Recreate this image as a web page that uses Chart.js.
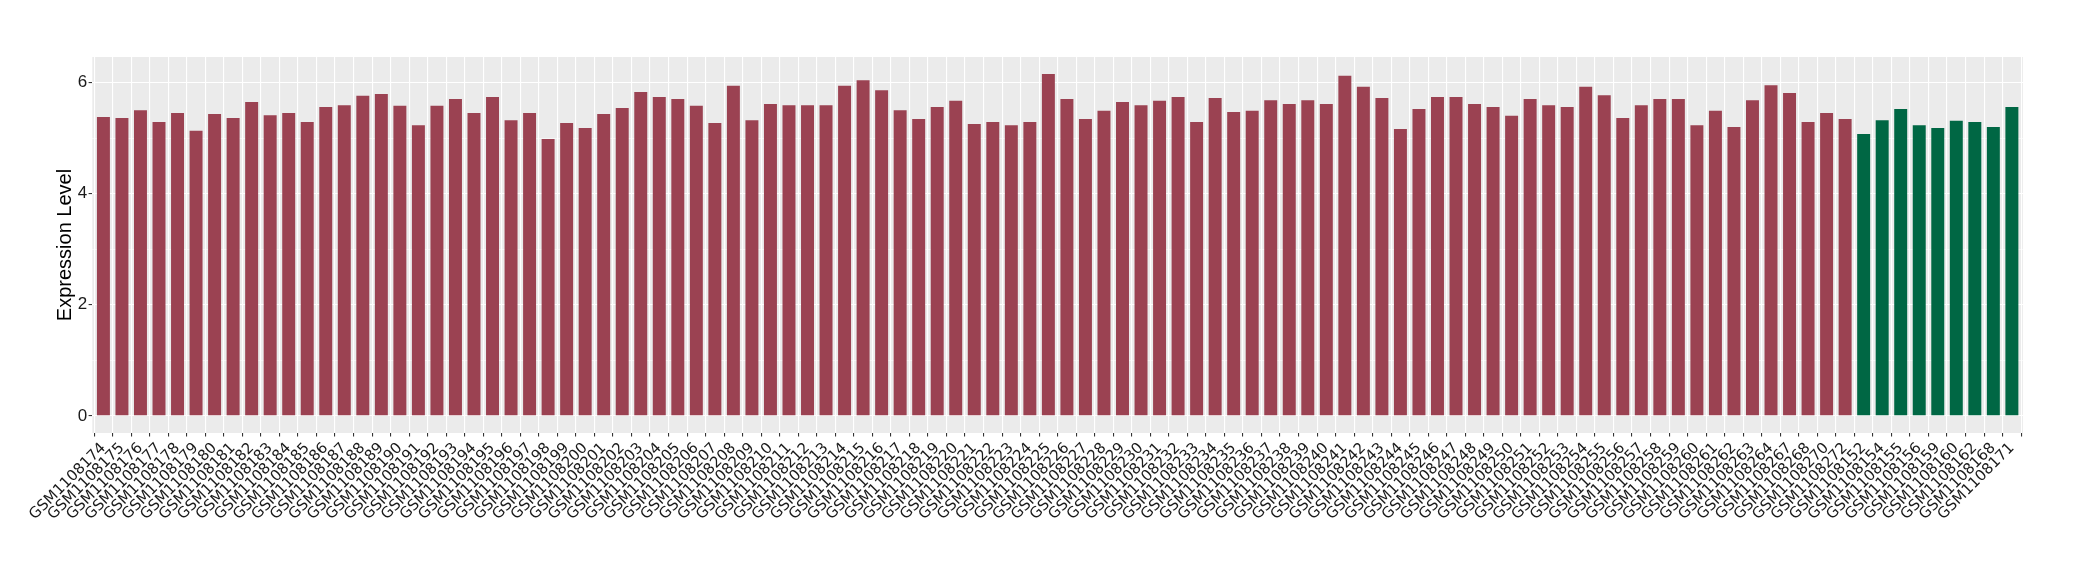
<!DOCTYPE html>
<html><head><meta charset="utf-8">
<script src="https://cdn.jsdelivr.net/npm/chart.js@4/dist/chart.umd.min.js"></script>
<style>html,body{margin:0;padding:0;background:#fff;}</style>
</head><body>
<canvas id="c" width="2080" height="580" style="display:block;width:2080px;height:580px"></canvas>
<script>
const groupALabels = [
"GSM1108174","GSM1108175","GSM1108176","GSM1108177","GSM1108178","GSM1108179","GSM1108180","GSM1108181","GSM1108182","GSM1108183",
"GSM1108184","GSM1108185","GSM1108186","GSM1108187","GSM1108188","GSM1108189","GSM1108190","GSM1108191","GSM1108192","GSM1108193",
"GSM1108194","GSM1108195","GSM1108196","GSM1108197","GSM1108198","GSM1108199","GSM1108200","GSM1108201","GSM1108202","GSM1108203",
"GSM1108204","GSM1108205","GSM1108206","GSM1108207","GSM1108208","GSM1108209","GSM1108210","GSM1108211","GSM1108212","GSM1108213",
"GSM1108214","GSM1108215","GSM1108216","GSM1108217","GSM1108218","GSM1108219","GSM1108220","GSM1108221","GSM1108222","GSM1108223",
"GSM1108224","GSM1108225","GSM1108226","GSM1108227","GSM1108228","GSM1108229","GSM1108230","GSM1108231","GSM1108232","GSM1108233",
"GSM1108234","GSM1108235","GSM1108236","GSM1108237","GSM1108238","GSM1108239","GSM1108240","GSM1108241","GSM1108242","GSM1108243",
"GSM1108244","GSM1108245","GSM1108246","GSM1108247","GSM1108248","GSM1108249","GSM1108250","GSM1108251","GSM1108252","GSM1108253",
"GSM1108254","GSM1108255","GSM1108256","GSM1108257","GSM1108258","GSM1108259","GSM1108260","GSM1108261","GSM1108262","GSM1108263",
"GSM1108264","GSM1108267","GSM1108268","GSM1108270","GSM1108272"];
const groupAValues = [
5.38,5.36,5.50,5.29,5.45,5.13,5.43,5.36,5.65,5.41,
5.45,5.29,5.56,5.59,5.76,5.79,5.58,5.23,5.58,5.70,
5.45,5.74,5.32,5.45,4.98,5.27,5.18,5.43,5.54,5.83,
5.74,5.70,5.58,5.27,5.94,5.32,5.61,5.59,5.59,5.59,
5.94,6.04,5.86,5.50,5.34,5.56,5.67,5.25,5.29,5.23,
5.29,6.15,5.70,5.34,5.49,5.65,5.59,5.67,5.74,5.29,
5.72,5.47,5.49,5.68,5.61,5.68,5.61,6.12,5.92,5.72,
5.16,5.52,5.74,5.74,5.61,5.56,5.40,5.70,5.59,5.56,
5.92,5.77,5.36,5.59,5.70,5.70,5.23,5.49,5.20,5.68,
5.95,5.81,5.29,5.45,5.34];
const groupBLabels = ["GSM1108152","GSM1108154","GSM1108155","GSM1108156","GSM1108159","GSM1108160","GSM1108162","GSM1108168","GSM1108171"];
const groupBValues = [5.07,5.32,5.52,5.23,5.18,5.31,5.29,5.20,5.56];
const yMajorTicks = [0,2,4,6];
const yMinorTicks = [1,3,5];
const yTitle = "Expression Level";

const allLabels = groupALabels.concat(groupBLabels);
const nA = groupALabels.length;
const dataA = groupAValues.map((v,i)=>({x:i,y:v}));
const dataB = groupBValues.map((v,i)=>({x:nA+i,y:v}));
const vMax = Math.max(...groupAValues, ...groupBValues);
const yTicksAll = yMajorTicks.concat(yMinorTicks).sort((a,b)=>a-b);

const panelBg = {
  id:'panelBg',
  beforeDraw(chart){
    const {ctx, chartArea:a} = chart;
    ctx.save(); ctx.fillStyle='#EBEBEB';
    ctx.fillRect(a.left, a.top, a.right-a.left, a.bottom-a.top);
    ctx.restore();
  }
};

new Chart(document.getElementById('c'), {
  type:'bar',
  data:{datasets:[
    {data:dataA, backgroundColor:'#9B4252', borderWidth:0, barPercentage:0.7, categoryPercentage:1, grouped:false},
    {data:dataB, backgroundColor:'#006744', borderWidth:0, barPercentage:0.7, categoryPercentage:1, grouped:false}
  ]},
  options:{
    responsive:false, animation:false, devicePixelRatio:1,
    layout:{padding:{left:0, top:57, right:57, bottom:0}},
    plugins:{legend:{display:false}, tooltip:{enabled:false}},
    scales:{
      x:{
        type:'linear', min:-0.6, max:allLabels.length-1+0.6, offset:false,
        afterBuildTicks(s){ s.ticks = allLabels.map((_,i)=>({value:i})); },
        afterFit(s){ s.height = 147; },
        border:{display:false},
        grid:{color:'#FFFFFF', lineWidth:1.1, tickColor:'#333333', tickLength:3.5, drawTicks:true},
        ticks:{autoSkip:false, maxRotation:45, minRotation:45, padding:3,
          font:{family:'DejaVu Sans', size:15}, color:'#1A1A1A',
          callback:(v)=>allLabels[v]}
      },
      y:{
        min:-0.05*vMax, max:vMax*1.05,
        afterBuildTicks(s){ s.ticks = yTicksAll.map(v=>({value:v})); },
        afterFit(s){ s.width = 92.3; },
        border:{display:false},
        grid:{
          color:'#FFFFFF',
          lineWidth:(c)=> yMajorTicks.includes(c.tick && c.tick.value) ? 1.1 : 0.55,
          tickColor:(c)=> yMajorTicks.includes(c.tick && c.tick.value) ? '#333333' : 'rgba(0,0,0,0)',
          tickLength:3.7, drawTicks:true
        },
        ticks:{padding:1.5, font:{family:'Liberation Sans', size:17}, color:'#1A1A1A',
          callback:(v)=> yMajorTicks.includes(v) ? String(v) : ''},
        title:{display:true, text:yTitle, font:{family:'Liberation Sans', size:20}, color:'#000000',
          padding:{top:53, bottom:0}}
      }
    }
  },
  plugins:[panelBg]
});
</script>
</body></html>
